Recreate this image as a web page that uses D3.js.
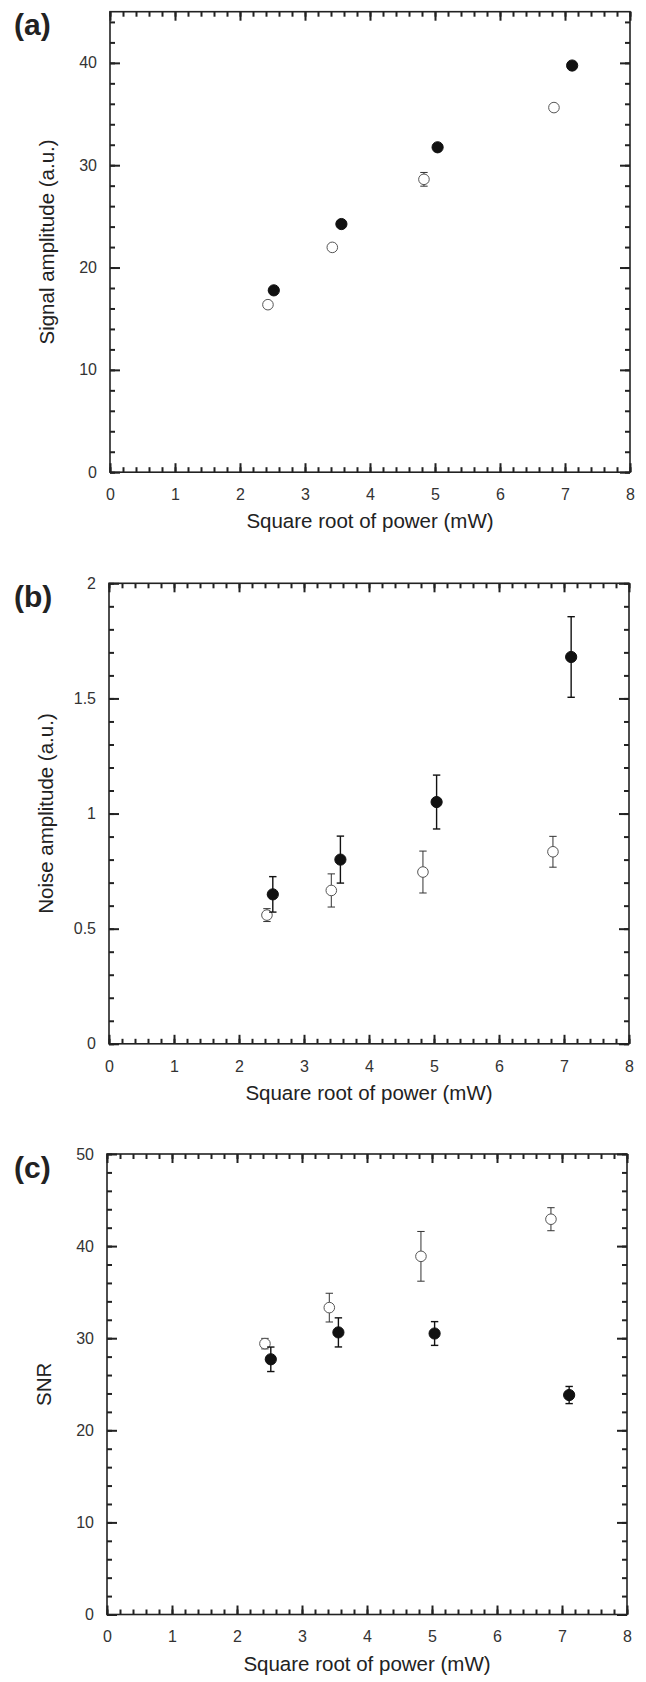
<!DOCTYPE html>
<html lang="en">
  <head>
    <meta charset="UTF-8" />
    <title>Signal, noise and SNR vs square root of power</title>
    <script src="https://d3js.org/d3.v7.min.js"></script>
    <style>
      body {
        margin: 0;
        background-color: #fff;
        font-family: "Liberation Sans", Arial, sans-serif;
      }
      .tick line {
        stroke: #222;
        stroke-width: 2;
      }
      .tick text {
        font-size: 16px;
        fill: #333;
        font-family: "Liberation Sans", Arial, sans-serif;
      }
      .frame {
        fill: none;
        stroke: #222;
        stroke-width: 1.6;
      }
      .axis-title {
        font-size: 20.5px;
        fill: #222;
      }
      .panel-label {
        font-size: 30px;
        font-weight: bold;
        fill: #222;
      }
    </style>
  </head>
  <body>
    <script>
      // x positions (square root of power, mW)
      const xFilled = [2.52, 3.56, 5.04, 7.11];
      const xOpen = [2.43, 3.42, 4.83, 6.83];

      // (a) signal amplitude
      const signalFilled = [17.77, 24.25, 31.75, 39.74];
      const signalFilledErr = [0.3, 0.3, 0.3, 0.3];
      const signalOpen = [16.37, 21.97, 28.62, 35.63];
      const signalOpenErr = [0.3, 0.3, 0.67, 0.3];

      // (b) noise amplitude
      const noiseFilled = [0.649, 0.8, 1.05, 1.68];
      const noiseFilledErr = [0.077, 0.102, 0.117, 0.175];
      const noiseOpen = [0.559, 0.666, 0.746, 0.834];
      const noiseOpenErr = [0.028, 0.072, 0.091, 0.067];

      // (c) SNR
      const snrFilled = [27.71, 30.63, 30.51, 23.83];
      const snrFilledErr = [1.33, 1.58, 1.29, 0.93];
      const snrOpen = [29.41, 33.32, 38.89, 42.92];
      const snrOpenErr = [0.57, 1.56, 2.7, 1.25];

      const xTicks = [0, 1, 2, 3, 4, 5, 6, 7, 8];
      const signalTicks = [0, 10, 20, 30, 40];
      const noiseTicks = [0, 0.5, 1, 1.5, 2];
      const snrTicks = [0, 10, 20, 30, 40, 50];

      const panels = [
        {
          label: "(a)",
          yTitle: "Signal amplitude (a.u.)",
          yMax: 45,
          yMinor: 2,
          ticks: signalTicks,
          filled: signalFilled,
          filledErr: signalFilledErr,
          open: signalOpen,
          openErr: signalOpenErr,
          left: 110,
          top: 11.7,
        },
        {
          label: "(b)",
          yTitle: "Noise amplitude (a.u.)",
          yMax: 2,
          yMinor: 0.1,
          ticks: noiseTicks,
          filled: noiseFilled,
          filledErr: noiseFilledErr,
          open: noiseOpen,
          openErr: noiseOpenErr,
          left: 109,
          top: 583.3,
        },
        {
          label: "(c)",
          yTitle: "SNR",
          yMax: 50,
          yMinor: 2,
          ticks: snrTicks,
          filled: snrFilled,
          filledErr: snrFilledErr,
          open: snrOpen,
          openErr: snrOpenErr,
          left: 107,
          top: 1154,
        },
      ];

      const width = 520,
        height = 460.5;

      const svg = d3
        .select("body")
        .append("svg")
        .attr("width", 646)
        .attr("height", 1682);

      const noDomain = (g) => g.select(".domain").remove();

      panels.forEach((p) => {
        const g = svg
          .append("g")
          .attr("transform", `translate(${p.left},${p.top})`);

        const x = d3.scaleLinear().domain([0, 8]).range([0, width]);
        const y = d3.scaleLinear().domain([0, p.yMax]).range([height, 0]);

        const xMinor = d3.range(0, 8.001, 0.2);
        const yMinor = d3.range(0, p.yMax + 1e-6, p.yMinor);

        // minor ticks on all four sides
        g.append("g")
          .attr("transform", `translate(0,${height})`)
          .call(d3.axisBottom(x).tickValues(xMinor).tickSize(-5).tickFormat(""))
          .call(noDomain);
        g.append("g")
          .call(d3.axisTop(x).tickValues(xMinor).tickSize(-5).tickFormat(""))
          .call(noDomain);
        g.append("g")
          .call(d3.axisLeft(y).tickValues(yMinor).tickSize(-5).tickFormat(""))
          .call(noDomain);
        g.append("g")
          .attr("transform", `translate(${width},0)`)
          .call(d3.axisRight(y).tickValues(yMinor).tickSize(-5).tickFormat(""))
          .call(noDomain);

        // major ticks with labels
        g.append("g")
          .attr("transform", `translate(0,${height})`)
          .call(
            d3
              .axisBottom(x)
              .tickValues(xTicks)
              .tickSize(-9)
              .tickPadding(16.5)
              .tickFormat(d3.format("d"))
          )
          .call(noDomain);
        g.append("g")
          .call(d3.axisTop(x).tickValues(xTicks).tickSize(-9).tickFormat(""))
          .call(noDomain);
        g.append("g")
          .call(
            d3
              .axisLeft(y)
              .tickValues(p.ticks)
              .tickSize(-10)
              .tickPadding(13)
              .tickFormat((d) => String(d))
          )
          .call(noDomain);
        g.append("g")
          .attr("transform", `translate(${width},0)`)
          .call(d3.axisRight(y).tickValues(p.ticks).tickSize(-10).tickFormat(""))
          .call(noDomain);

        g.append("rect")
          .attr("class", "frame")
          .attr("width", width)
          .attr("height", height);

        g.append("text")
          .attr("class", "axis-title")
          .attr("x", width / 2)
          .attr("y", height + 56)
          .style("text-anchor", "middle")
          .text("Square root of power (mW)");

        g.append("text")
          .attr("class", "axis-title")
          .attr("transform", `translate(-56,${height / 2}) rotate(-90)`)
          .style("text-anchor", "middle")
          .text(p.yTitle);

        svg
          .append("text")
          .attr("class", "panel-label")
          .attr("x", 14)
          .attr("y", p.top + 23.5)
          .text(p.label);

        const series = [
          { xs: xOpen, ys: p.open, errs: p.openErr, filled: false },
          { xs: xFilled, ys: p.filled, errs: p.filledErr, filled: true },
        ];

        series.forEach((s) => {
          const pts = s.xs.map((xv, i) => ({ x: xv, y: s.ys[i], e: s.errs[i] }));
          const color = s.filled ? "#111" : "#333";
          const sw = s.filled ? 1.4 : 1;

          const eb = g
            .selectAll(null)
            .data(pts)
            .enter()
            .append("g")
            .attr("stroke", color)
            .attr("stroke-width", sw);
          eb.append("line")
            .attr("x1", (d) => x(d.x))
            .attr("x2", (d) => x(d.x))
            .attr("y1", (d) => y(d.y - d.e))
            .attr("y2", (d) => y(d.y + d.e));
          eb.append("line")
            .attr("x1", (d) => x(d.x) - 3.7)
            .attr("x2", (d) => x(d.x) + 3.7)
            .attr("y1", (d) => y(d.y + d.e))
            .attr("y2", (d) => y(d.y + d.e));
          eb.append("line")
            .attr("x1", (d) => x(d.x) - 3.7)
            .attr("x2", (d) => x(d.x) + 3.7)
            .attr("y1", (d) => y(d.y - d.e))
            .attr("y2", (d) => y(d.y - d.e));

          g.selectAll(null)
            .data(pts)
            .enter()
            .append("circle")
            .attr("cx", (d) => x(d.x))
            .attr("cy", (d) => y(d.y))
            .attr("r", s.filled ? 5.6 : 5.3)
            .attr("fill", s.filled ? "#111" : "#fff")
            .attr("stroke", s.filled ? "#111" : "#555")
            .attr("stroke-width", 1);
        });
      });
    </script>
  </body>
</html>
